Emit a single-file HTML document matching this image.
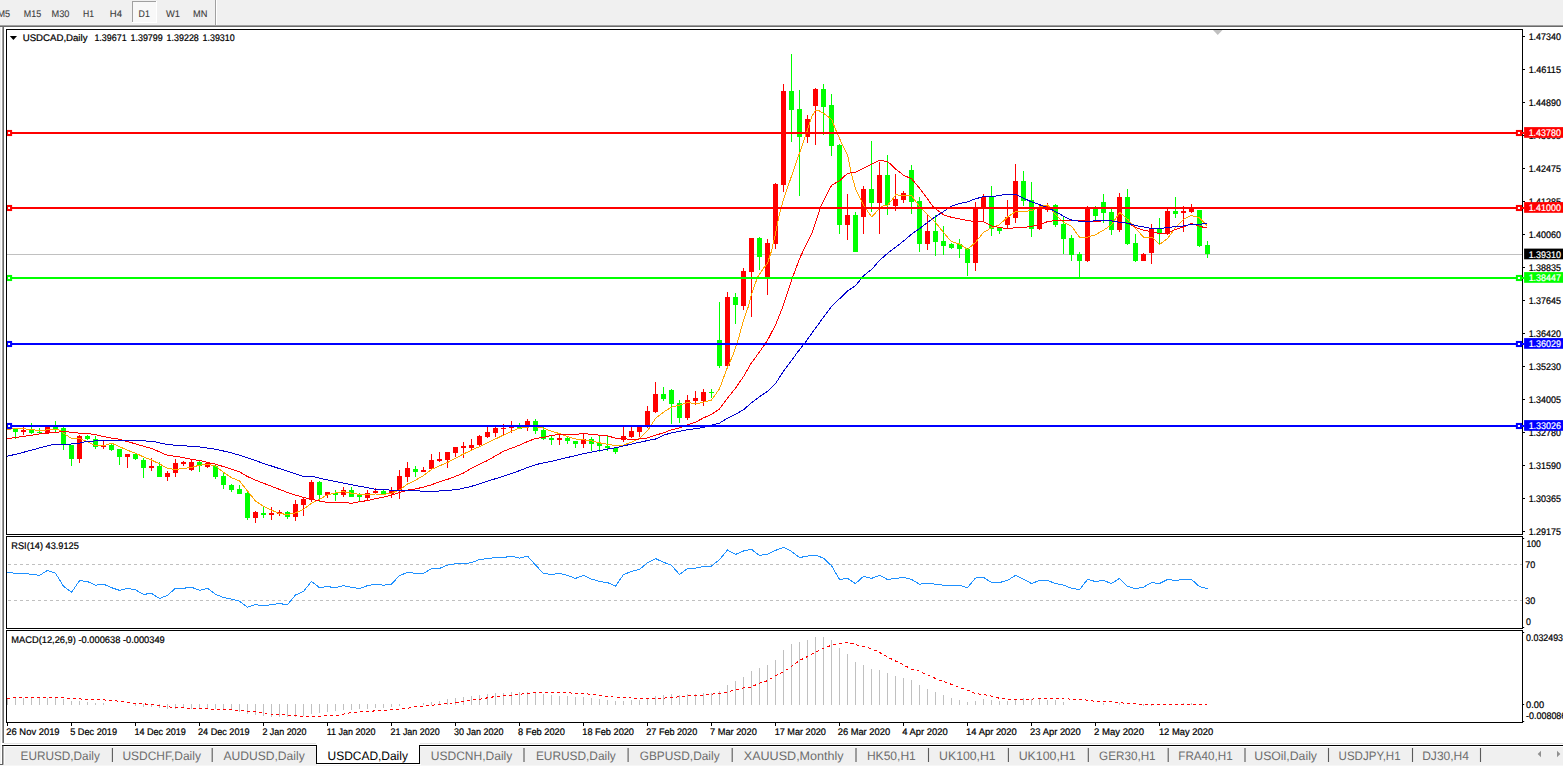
<!DOCTYPE html>
<html><head><meta charset="utf-8"><title>USDCAD,Daily</title>
<style>html,body{margin:0;padding:0}body{width:1563px;height:766px;overflow:hidden;background:#f0f0f0;position:relative}svg{position:absolute;left:0;top:0;display:block}text{font-family:"Liberation Sans",sans-serif;white-space:pre;text-rendering:geometricPrecision}</style>
</head><body>
<svg width="1563" height="766" viewBox="0 0 1563 766">
<defs><clipPath id="cm"><rect x="7" y="30" width="1515" height="504"/></clipPath><clipPath id="cr"><rect x="7" y="537" width="1515" height="91"/></clipPath><clipPath id="cd"><rect x="7" y="631" width="1515" height="91"/></clipPath></defs>
<rect x="0" y="0" width="1563" height="25" fill="#f0f0f0"/>
<rect x="132" y="1" width="25" height="22" fill="#f8f8f8"/>
<rect x="132" y="1" width="25" height="1" fill="#a0a0a0"/>
<rect x="132" y="1" width="1" height="22" fill="#a0a0a0"/>
<rect x="132" y="22" width="25" height="1" fill="#ffffff"/>
<rect x="156" y="1" width="1" height="22" fill="#ffffff"/>
<rect x="215" y="0" width="1" height="25" fill="#a0a0a0"/>
<rect x="216" y="0" width="1" height="25" fill="#ffffff"/>
<g opacity="0.99">
<text x="-2.6" y="17" font-size="9.6" fill="#3a3a3a" stroke="#3a3a3a" stroke-width="0.1" textLength="12.6" lengthAdjust="spacingAndGlyphs">M5</text>
<text x="23.8" y="17" font-size="9.6" fill="#3a3a3a" stroke="#3a3a3a" stroke-width="0.1" textLength="17.4" lengthAdjust="spacingAndGlyphs">M15</text>
<text x="51.5" y="17" font-size="9.6" fill="#3a3a3a" stroke="#3a3a3a" stroke-width="0.1" textLength="17.9" lengthAdjust="spacingAndGlyphs">M30</text>
<text x="83" y="17" font-size="9.6" fill="#3a3a3a" stroke="#3a3a3a" stroke-width="0.1" textLength="11" lengthAdjust="spacingAndGlyphs">H1</text>
<text x="109.8" y="17" font-size="9.6" fill="#3a3a3a" stroke="#3a3a3a" stroke-width="0.1" textLength="12.2" lengthAdjust="spacingAndGlyphs">H4</text>
<text x="138.6" y="17" font-size="9.6" fill="#3a3a3a" stroke="#3a3a3a" stroke-width="0.1" textLength="11.2" lengthAdjust="spacingAndGlyphs">D1</text>
<text x="166" y="17" font-size="9.6" fill="#3a3a3a" stroke="#3a3a3a" stroke-width="0.1" textLength="14" lengthAdjust="spacingAndGlyphs">W1</text>
<text x="193" y="17" font-size="9.6" fill="#3a3a3a" stroke="#3a3a3a" stroke-width="0.1" textLength="14.4" lengthAdjust="spacingAndGlyphs">MN</text>
</g>
<rect x="0" y="25" width="1563" height="1" fill="#a0a0a0"/>
<rect x="0" y="26" width="1563" height="1" fill="#696969"/>
<rect x="0" y="27" width="1563" height="718" fill="#ffffff"/>
<rect x="0" y="27" width="1" height="739" fill="#f0f0f0"/>
<rect x="2" y="27" width="1" height="716" fill="#a0a0a0"/>
<rect x="3" y="27" width="1" height="716" fill="#696969"/>
<rect x="6" y="29" width="1517" height="1" fill="#000"/>
<rect x="6" y="534" width="1517" height="1" fill="#000"/>
<rect x="6" y="29" width="1" height="506" fill="#000"/>
<rect x="1522" y="29" width="1" height="506" fill="#000"/>
<rect x="6" y="536" width="1517" height="1" fill="#000"/>
<rect x="6" y="628" width="1517" height="1" fill="#000"/>
<rect x="6" y="536" width="1" height="93" fill="#000"/>
<rect x="1522" y="536" width="1" height="93" fill="#000"/>
<rect x="6" y="630" width="1517" height="1" fill="#000"/>
<rect x="6" y="722" width="1517" height="1" fill="#000"/>
<rect x="6" y="630" width="1" height="93" fill="#000"/>
<rect x="1522" y="630" width="1" height="93" fill="#000"/>
<g clip-path="url(#cm)">
<rect x="7" y="254" width="1515" height="1" fill="#c0c0c0"/>
<rect x="15" y="428" width="1" height="11" fill="#00ff00"/>
<rect x="13" y="429" width="5" height="3" fill="#00ff00"/>
<rect x="23" y="427" width="1" height="8" fill="#ff0000"/>
<rect x="21" y="430" width="5" height="2" fill="#ff0000"/>
<rect x="31" y="423" width="1" height="11" fill="#00ff00"/>
<rect x="29" y="429" width="5" height="4" fill="#00ff00"/>
<rect x="39" y="428" width="1" height="5" fill="#00ff00"/>
<rect x="37" y="432" width="5" height="1" fill="#00ff00"/>
<rect x="47" y="427" width="1" height="7" fill="#ff0000"/>
<rect x="45" y="427" width="5" height="6" fill="#ff0000"/>
<rect x="55" y="421" width="1" height="11" fill="#00ff00"/>
<rect x="53" y="427" width="5" height="2" fill="#00ff00"/>
<rect x="63" y="427" width="1" height="23" fill="#00ff00"/>
<rect x="61" y="428" width="5" height="17" fill="#00ff00"/>
<rect x="71" y="445" width="1" height="21" fill="#00ff00"/>
<rect x="69" y="445" width="5" height="14" fill="#00ff00"/>
<rect x="79" y="435" width="1" height="28" fill="#ff0000"/>
<rect x="77" y="436" width="5" height="23" fill="#ff0000"/>
<rect x="87" y="435" width="1" height="5" fill="#00ff00"/>
<rect x="85" y="436" width="5" height="3" fill="#00ff00"/>
<rect x="95" y="436" width="1" height="13" fill="#00ff00"/>
<rect x="93" y="439" width="5" height="8" fill="#00ff00"/>
<rect x="103" y="441" width="1" height="8" fill="#ff0000"/>
<rect x="101" y="445" width="5" height="2" fill="#ff0000"/>
<rect x="111" y="444" width="1" height="7" fill="#00ff00"/>
<rect x="109" y="445" width="5" height="5" fill="#00ff00"/>
<rect x="119" y="449" width="1" height="16" fill="#00ff00"/>
<rect x="117" y="449" width="5" height="8" fill="#00ff00"/>
<rect x="127" y="454" width="1" height="14" fill="#ff0000"/>
<rect x="125" y="454" width="5" height="3" fill="#ff0000"/>
<rect x="135" y="453" width="1" height="7" fill="#00ff00"/>
<rect x="133" y="454" width="5" height="5" fill="#00ff00"/>
<rect x="143" y="458" width="1" height="20" fill="#00ff00"/>
<rect x="141" y="460" width="5" height="8" fill="#00ff00"/>
<rect x="151" y="458" width="1" height="13" fill="#ff0000"/>
<rect x="149" y="466" width="5" height="2" fill="#ff0000"/>
<rect x="159" y="462" width="1" height="15" fill="#00ff00"/>
<rect x="157" y="466" width="5" height="11" fill="#00ff00"/>
<rect x="167" y="471" width="1" height="10" fill="#ff0000"/>
<rect x="165" y="473" width="5" height="4" fill="#ff0000"/>
<rect x="175" y="459" width="1" height="18" fill="#ff0000"/>
<rect x="173" y="463" width="5" height="10" fill="#ff0000"/>
<rect x="183" y="461" width="1" height="5" fill="#ff0000"/>
<rect x="181" y="462" width="5" height="2" fill="#ff0000"/>
<rect x="191" y="460" width="1" height="11" fill="#ff0000"/>
<rect x="189" y="462" width="5" height="8" fill="#ff0000"/>
<rect x="199" y="461" width="1" height="11" fill="#00ff00"/>
<rect x="197" y="462" width="5" height="4" fill="#00ff00"/>
<rect x="207" y="462" width="1" height="6" fill="#ff0000"/>
<rect x="205" y="463" width="5" height="4" fill="#ff0000"/>
<rect x="215" y="465" width="1" height="14" fill="#00ff00"/>
<rect x="213" y="466" width="5" height="11" fill="#00ff00"/>
<rect x="223" y="472" width="1" height="17" fill="#00ff00"/>
<rect x="221" y="476" width="5" height="9" fill="#00ff00"/>
<rect x="231" y="484" width="1" height="8" fill="#00ff00"/>
<rect x="229" y="485" width="5" height="5" fill="#00ff00"/>
<rect x="239" y="485" width="1" height="9" fill="#00ff00"/>
<rect x="237" y="489" width="5" height="5" fill="#00ff00"/>
<rect x="247" y="490" width="1" height="30" fill="#00ff00"/>
<rect x="245" y="493" width="5" height="25" fill="#00ff00"/>
<rect x="255" y="511" width="1" height="12" fill="#ff0000"/>
<rect x="253" y="512" width="5" height="6" fill="#ff0000"/>
<rect x="263" y="506" width="1" height="12" fill="#00ff00"/>
<rect x="261" y="513" width="5" height="2" fill="#00ff00"/>
<rect x="271" y="507" width="1" height="13" fill="#ff0000"/>
<rect x="269" y="513" width="5" height="2" fill="#ff0000"/>
<rect x="279" y="510" width="1" height="6" fill="#ff0000"/>
<rect x="277" y="512" width="5" height="2" fill="#ff0000"/>
<rect x="287" y="511" width="1" height="8" fill="#00ff00"/>
<rect x="285" y="512" width="5" height="5" fill="#00ff00"/>
<rect x="295" y="500" width="1" height="21" fill="#ff0000"/>
<rect x="293" y="504" width="5" height="13" fill="#ff0000"/>
<rect x="303" y="497" width="1" height="19" fill="#ff0000"/>
<rect x="301" y="499" width="5" height="6" fill="#ff0000"/>
<rect x="311" y="480" width="1" height="22" fill="#ff0000"/>
<rect x="309" y="482" width="5" height="18" fill="#ff0000"/>
<rect x="319" y="481" width="1" height="21" fill="#00ff00"/>
<rect x="317" y="482" width="5" height="13" fill="#00ff00"/>
<rect x="327" y="492" width="1" height="6" fill="#ff0000"/>
<rect x="325" y="492" width="5" height="3" fill="#ff0000"/>
<rect x="335" y="490" width="1" height="11" fill="#00ff00"/>
<rect x="333" y="493" width="5" height="2" fill="#00ff00"/>
<rect x="343" y="487" width="1" height="10" fill="#ff0000"/>
<rect x="341" y="490" width="5" height="5" fill="#ff0000"/>
<rect x="351" y="487" width="1" height="10" fill="#00ff00"/>
<rect x="349" y="490" width="5" height="7" fill="#00ff00"/>
<rect x="359" y="493" width="1" height="8" fill="#00ff00"/>
<rect x="357" y="495" width="5" height="2" fill="#00ff00"/>
<rect x="367" y="490" width="1" height="10" fill="#ff0000"/>
<rect x="365" y="493" width="5" height="5" fill="#ff0000"/>
<rect x="375" y="488" width="1" height="5" fill="#ff0000"/>
<rect x="373" y="491" width="5" height="2" fill="#ff0000"/>
<rect x="383" y="490" width="1" height="4" fill="#00ff00"/>
<rect x="381" y="491" width="5" height="3" fill="#00ff00"/>
<rect x="391" y="487" width="1" height="11" fill="#ff0000"/>
<rect x="389" y="491" width="5" height="3" fill="#ff0000"/>
<rect x="399" y="470" width="1" height="29" fill="#ff0000"/>
<rect x="397" y="476" width="5" height="15" fill="#ff0000"/>
<rect x="407" y="462" width="1" height="20" fill="#ff0000"/>
<rect x="405" y="468" width="5" height="9" fill="#ff0000"/>
<rect x="415" y="466" width="1" height="11" fill="#00ff00"/>
<rect x="413" y="469" width="5" height="3" fill="#00ff00"/>
<rect x="423" y="467" width="1" height="5" fill="#ff0000"/>
<rect x="421" y="470" width="5" height="2" fill="#ff0000"/>
<rect x="431" y="454" width="1" height="15" fill="#ff0000"/>
<rect x="429" y="460" width="5" height="9" fill="#ff0000"/>
<rect x="439" y="452" width="1" height="10" fill="#ff0000"/>
<rect x="437" y="459" width="5" height="2" fill="#ff0000"/>
<rect x="447" y="452" width="1" height="16" fill="#ff0000"/>
<rect x="445" y="452" width="5" height="8" fill="#ff0000"/>
<rect x="455" y="447" width="1" height="10" fill="#ff0000"/>
<rect x="453" y="447" width="5" height="6" fill="#ff0000"/>
<rect x="463" y="442" width="1" height="16" fill="#ff0000"/>
<rect x="461" y="446" width="5" height="2" fill="#ff0000"/>
<rect x="471" y="439" width="1" height="11" fill="#ff0000"/>
<rect x="469" y="445" width="5" height="3" fill="#ff0000"/>
<rect x="479" y="435" width="1" height="11" fill="#ff0000"/>
<rect x="477" y="436" width="5" height="9" fill="#ff0000"/>
<rect x="487" y="427" width="1" height="11" fill="#ff0000"/>
<rect x="485" y="432" width="5" height="5" fill="#ff0000"/>
<rect x="495" y="427" width="1" height="10" fill="#ff0000"/>
<rect x="493" y="428" width="5" height="5" fill="#ff0000"/>
<rect x="503" y="424" width="1" height="12" fill="#ff0000"/>
<rect x="501" y="428" width="5" height="1" fill="#ff0000"/>
<rect x="511" y="421" width="1" height="12" fill="#ff0000"/>
<rect x="509" y="426" width="5" height="2" fill="#ff0000"/>
<rect x="519" y="423" width="1" height="6" fill="#00ff00"/>
<rect x="517" y="425" width="5" height="4" fill="#00ff00"/>
<rect x="527" y="419" width="1" height="12" fill="#ff0000"/>
<rect x="525" y="421" width="5" height="6" fill="#ff0000"/>
<rect x="535" y="419" width="1" height="15" fill="#00ff00"/>
<rect x="533" y="421" width="5" height="10" fill="#00ff00"/>
<rect x="543" y="427" width="1" height="13" fill="#00ff00"/>
<rect x="541" y="430" width="5" height="9" fill="#00ff00"/>
<rect x="551" y="436" width="1" height="9" fill="#00ff00"/>
<rect x="549" y="438" width="5" height="2" fill="#00ff00"/>
<rect x="559" y="433" width="1" height="12" fill="#ff0000"/>
<rect x="557" y="438" width="5" height="2" fill="#ff0000"/>
<rect x="567" y="437" width="1" height="7" fill="#00ff00"/>
<rect x="565" y="438" width="5" height="3" fill="#00ff00"/>
<rect x="575" y="441" width="1" height="7" fill="#00ff00"/>
<rect x="573" y="441" width="5" height="3" fill="#00ff00"/>
<rect x="583" y="433" width="1" height="15" fill="#ff0000"/>
<rect x="581" y="439" width="5" height="5" fill="#ff0000"/>
<rect x="591" y="437" width="1" height="14" fill="#00ff00"/>
<rect x="589" y="439" width="5" height="5" fill="#00ff00"/>
<rect x="599" y="435" width="1" height="17" fill="#00ff00"/>
<rect x="597" y="443" width="5" height="3" fill="#00ff00"/>
<rect x="607" y="435" width="1" height="16" fill="#00ff00"/>
<rect x="605" y="446" width="5" height="2" fill="#00ff00"/>
<rect x="615" y="447" width="1" height="7" fill="#00ff00"/>
<rect x="613" y="448" width="5" height="4" fill="#00ff00"/>
<rect x="623" y="427" width="1" height="15" fill="#ff0000"/>
<rect x="621" y="436" width="5" height="4" fill="#ff0000"/>
<rect x="631" y="427" width="1" height="11" fill="#ff0000"/>
<rect x="629" y="431" width="5" height="6" fill="#ff0000"/>
<rect x="639" y="427" width="1" height="10" fill="#ff0000"/>
<rect x="637" y="427" width="5" height="5" fill="#ff0000"/>
<rect x="647" y="406" width="1" height="22" fill="#ff0000"/>
<rect x="645" y="411" width="5" height="16" fill="#ff0000"/>
<rect x="655" y="382" width="1" height="31" fill="#ff0000"/>
<rect x="653" y="394" width="5" height="18" fill="#ff0000"/>
<rect x="663" y="387" width="1" height="14" fill="#00ff00"/>
<rect x="661" y="394" width="5" height="5" fill="#00ff00"/>
<rect x="671" y="389" width="1" height="35" fill="#00ff00"/>
<rect x="669" y="390" width="5" height="14" fill="#00ff00"/>
<rect x="679" y="400" width="1" height="23" fill="#00ff00"/>
<rect x="677" y="403" width="5" height="15" fill="#00ff00"/>
<rect x="687" y="395" width="1" height="25" fill="#ff0000"/>
<rect x="685" y="400" width="5" height="18" fill="#ff0000"/>
<rect x="695" y="391" width="1" height="14" fill="#ff0000"/>
<rect x="693" y="398" width="5" height="3" fill="#ff0000"/>
<rect x="703" y="389" width="1" height="17" fill="#ff0000"/>
<rect x="701" y="392" width="5" height="9" fill="#ff0000"/>
<rect x="711" y="389" width="1" height="9" fill="#00ff00"/>
<rect x="709" y="392" width="5" height="1" fill="#00ff00"/>
<rect x="719" y="302" width="1" height="66" fill="#00ff00"/>
<rect x="717" y="340" width="5" height="26" fill="#00ff00"/>
<rect x="727" y="292" width="1" height="75" fill="#ff0000"/>
<rect x="725" y="297" width="5" height="69" fill="#ff0000"/>
<rect x="735" y="293" width="1" height="31" fill="#00ff00"/>
<rect x="733" y="297" width="5" height="8" fill="#00ff00"/>
<rect x="743" y="268" width="1" height="42" fill="#ff0000"/>
<rect x="741" y="271" width="5" height="35" fill="#ff0000"/>
<rect x="751" y="238" width="1" height="79" fill="#ff0000"/>
<rect x="749" y="238" width="5" height="34" fill="#ff0000"/>
<rect x="759" y="237" width="1" height="33" fill="#00ff00"/>
<rect x="757" y="238" width="5" height="19" fill="#00ff00"/>
<rect x="767" y="239" width="1" height="56" fill="#ff0000"/>
<rect x="765" y="243" width="5" height="34" fill="#ff0000"/>
<rect x="775" y="183" width="1" height="66" fill="#ff0000"/>
<rect x="773" y="184" width="5" height="60" fill="#ff0000"/>
<rect x="783" y="84" width="1" height="108" fill="#ff0000"/>
<rect x="781" y="91" width="5" height="94" fill="#ff0000"/>
<rect x="791" y="54" width="1" height="88" fill="#00ff00"/>
<rect x="789" y="91" width="5" height="19" fill="#00ff00"/>
<rect x="799" y="90" width="1" height="106" fill="#00ff00"/>
<rect x="797" y="109" width="5" height="28" fill="#00ff00"/>
<rect x="807" y="115" width="1" height="28" fill="#ff0000"/>
<rect x="805" y="119" width="5" height="18" fill="#ff0000"/>
<rect x="815" y="88" width="1" height="57" fill="#ff0000"/>
<rect x="813" y="89" width="5" height="17" fill="#ff0000"/>
<rect x="823" y="84" width="1" height="51" fill="#00ff00"/>
<rect x="821" y="89" width="5" height="18" fill="#00ff00"/>
<rect x="831" y="94" width="1" height="62" fill="#00ff00"/>
<rect x="829" y="105" width="5" height="41" fill="#00ff00"/>
<rect x="839" y="144" width="1" height="90" fill="#00ff00"/>
<rect x="837" y="145" width="5" height="80" fill="#00ff00"/>
<rect x="847" y="194" width="1" height="46" fill="#ff0000"/>
<rect x="845" y="215" width="5" height="10" fill="#ff0000"/>
<rect x="855" y="212" width="1" height="40" fill="#00ff00"/>
<rect x="853" y="215" width="5" height="37" fill="#00ff00"/>
<rect x="863" y="186" width="1" height="48" fill="#ff0000"/>
<rect x="861" y="189" width="5" height="28" fill="#ff0000"/>
<rect x="871" y="141" width="1" height="71" fill="#00ff00"/>
<rect x="869" y="189" width="5" height="14" fill="#00ff00"/>
<rect x="879" y="162" width="1" height="72" fill="#ff0000"/>
<rect x="877" y="175" width="5" height="28" fill="#ff0000"/>
<rect x="887" y="155" width="1" height="60" fill="#00ff00"/>
<rect x="885" y="175" width="5" height="30" fill="#00ff00"/>
<rect x="895" y="174" width="1" height="37" fill="#ff0000"/>
<rect x="893" y="199" width="5" height="7" fill="#ff0000"/>
<rect x="903" y="191" width="1" height="12" fill="#ff0000"/>
<rect x="901" y="193" width="5" height="7" fill="#ff0000"/>
<rect x="911" y="165" width="1" height="49" fill="#00ff00"/>
<rect x="909" y="170" width="5" height="32" fill="#00ff00"/>
<rect x="919" y="197" width="1" height="55" fill="#00ff00"/>
<rect x="917" y="201" width="5" height="43" fill="#00ff00"/>
<rect x="927" y="215" width="1" height="35" fill="#ff0000"/>
<rect x="925" y="231" width="5" height="13" fill="#ff0000"/>
<rect x="935" y="215" width="1" height="41" fill="#00ff00"/>
<rect x="933" y="231" width="5" height="11" fill="#00ff00"/>
<rect x="943" y="226" width="1" height="29" fill="#00ff00"/>
<rect x="941" y="241" width="5" height="5" fill="#00ff00"/>
<rect x="951" y="243" width="1" height="6" fill="#00ff00"/>
<rect x="949" y="244" width="5" height="4" fill="#00ff00"/>
<rect x="959" y="239" width="1" height="19" fill="#00ff00"/>
<rect x="957" y="244" width="5" height="5" fill="#00ff00"/>
<rect x="967" y="248" width="1" height="28" fill="#00ff00"/>
<rect x="965" y="249" width="5" height="14" fill="#00ff00"/>
<rect x="975" y="202" width="1" height="69" fill="#ff0000"/>
<rect x="973" y="208" width="5" height="55" fill="#ff0000"/>
<rect x="983" y="194" width="1" height="28" fill="#ff0000"/>
<rect x="981" y="197" width="5" height="11" fill="#ff0000"/>
<rect x="991" y="186" width="1" height="50" fill="#00ff00"/>
<rect x="989" y="197" width="5" height="32" fill="#00ff00"/>
<rect x="999" y="227" width="1" height="7" fill="#00ff00"/>
<rect x="997" y="228" width="5" height="3" fill="#00ff00"/>
<rect x="1007" y="200" width="1" height="29" fill="#ff0000"/>
<rect x="1005" y="217" width="5" height="8" fill="#ff0000"/>
<rect x="1015" y="164" width="1" height="59" fill="#ff0000"/>
<rect x="1013" y="181" width="5" height="37" fill="#ff0000"/>
<rect x="1023" y="171" width="1" height="35" fill="#00ff00"/>
<rect x="1021" y="181" width="5" height="20" fill="#00ff00"/>
<rect x="1031" y="182" width="1" height="55" fill="#00ff00"/>
<rect x="1029" y="200" width="5" height="29" fill="#00ff00"/>
<rect x="1039" y="205" width="1" height="25" fill="#ff0000"/>
<rect x="1037" y="208" width="5" height="21" fill="#ff0000"/>
<rect x="1047" y="203" width="1" height="9" fill="#ff0000"/>
<rect x="1045" y="206" width="5" height="4" fill="#ff0000"/>
<rect x="1055" y="204" width="1" height="23" fill="#00ff00"/>
<rect x="1053" y="205" width="5" height="20" fill="#00ff00"/>
<rect x="1063" y="217" width="1" height="37" fill="#00ff00"/>
<rect x="1061" y="224" width="5" height="15" fill="#00ff00"/>
<rect x="1071" y="235" width="1" height="26" fill="#00ff00"/>
<rect x="1069" y="238" width="5" height="17" fill="#00ff00"/>
<rect x="1079" y="252" width="1" height="26" fill="#00ff00"/>
<rect x="1077" y="254" width="5" height="7" fill="#00ff00"/>
<rect x="1087" y="206" width="1" height="56" fill="#ff0000"/>
<rect x="1085" y="208" width="5" height="53" fill="#ff0000"/>
<rect x="1095" y="206" width="1" height="14" fill="#00ff00"/>
<rect x="1093" y="209" width="5" height="7" fill="#00ff00"/>
<rect x="1103" y="194" width="1" height="29" fill="#00ff00"/>
<rect x="1101" y="202" width="5" height="11" fill="#00ff00"/>
<rect x="1111" y="209" width="1" height="26" fill="#00ff00"/>
<rect x="1109" y="212" width="5" height="18" fill="#00ff00"/>
<rect x="1119" y="193" width="1" height="39" fill="#ff0000"/>
<rect x="1117" y="197" width="5" height="33" fill="#ff0000"/>
<rect x="1127" y="189" width="1" height="56" fill="#00ff00"/>
<rect x="1125" y="197" width="5" height="47" fill="#00ff00"/>
<rect x="1135" y="234" width="1" height="28" fill="#00ff00"/>
<rect x="1133" y="243" width="5" height="18" fill="#00ff00"/>
<rect x="1143" y="253" width="1" height="8" fill="#ff0000"/>
<rect x="1141" y="254" width="5" height="7" fill="#ff0000"/>
<rect x="1151" y="224" width="1" height="40" fill="#ff0000"/>
<rect x="1149" y="229" width="5" height="24" fill="#ff0000"/>
<rect x="1159" y="218" width="1" height="26" fill="#00ff00"/>
<rect x="1157" y="229" width="5" height="4" fill="#00ff00"/>
<rect x="1167" y="208" width="1" height="27" fill="#ff0000"/>
<rect x="1165" y="211" width="5" height="23" fill="#ff0000"/>
<rect x="1175" y="197" width="1" height="21" fill="#00ff00"/>
<rect x="1173" y="211" width="5" height="3" fill="#00ff00"/>
<rect x="1183" y="206" width="1" height="26" fill="#ff0000"/>
<rect x="1181" y="211" width="5" height="2" fill="#ff0000"/>
<rect x="1191" y="204" width="1" height="9" fill="#ff0000"/>
<rect x="1189" y="208" width="5" height="4" fill="#ff0000"/>
<rect x="1199" y="210" width="1" height="37" fill="#00ff00"/>
<rect x="1197" y="210" width="5" height="36" fill="#00ff00"/>
<rect x="1207" y="241" width="1" height="17" fill="#00ff00"/>
<rect x="1205" y="245" width="5" height="9" fill="#00ff00"/>
<polyline points="6.93,429.57 15.41,428.49 30.82,429.26 40.06,430.8 50.85,429.26 58.55,429.72 63.48,433.11 71.49,438.51 79.51,438.51 87.52,441.59 95.53,445.75 103.54,445.75 111.56,443.13 119.57,446.67 127.58,450.37 135.59,453.14 143.61,457 151.62,460.08 159.63,463.93 167.64,468.55 175.65,469.32 183.67,468.55 191.68,467.32 199.69,465.16 207.7,464.24 215.72,466.24 223.73,472.4 231.74,477.8 239.4,480.88 247.41,490.89 255.42,500.91 263.43,506.3 271.45,510.15 279.46,513.54 287.47,514.47 295.48,512.93 303.49,509.38 311.51,503.22 319.52,499.37 327.53,494.75 335.54,492.9 343.56,491.66 351.57,493.2 359.58,494.44 367.59,494.44 375.61,493.98 383.62,494.44 391.63,493.2 399.64,489.82 407.65,483.96 415.67,480.11 423.68,475.49 431.69,469.32 439.7,465.78 447.72,462.39 455.73,458.07 463.74,453.91 471.4,450.22 479.41,446.68 487.42,442.83 495.43,438.98 503.45,435.12 511.46,431.27 519.47,428.19 527.48,427.11 535.49,426.65 543.51,428.19 551.52,431.27 559.53,433.58 567.54,436.66 575.56,438.98 583.57,439.75 591.58,440.98 599.59,442.83 607.61,444.37 615.62,445.6 623.63,445.14 631.64,442.06 639.65,438.2 647.67,430.5 655.68,418.17 663.69,412.01 671.7,407.08 679.72,405.08 687.73,402.46 695.74,404 703.4,402.08 711.41,400.07 719.42,388.98 727.43,367.41 732.98,355.08 737.6,341.86 743.46,320.29 748.39,306.42 751.47,294.09 757.63,277.14 763.8,267.9 767.49,263.28 771.5,250.95 774.89,236.31 779.2,214.61 783.52,199.2 791.53,176.09 799.54,152.98 807.56,129.87 811.56,117.04 815.57,110.11 819.27,110.88 823.58,113.19 831.59,119.35 836.22,130.91 839.61,138.61 843.92,147.86 847.62,155.56 851.62,174.55 855.63,189.19 863.64,205.37 871.65,216.92 879.67,208.45 882.44,206.14 887.68,205.37 895.69,194.89 903.7,195.35 911.72,195.82 919.73,206.91 927.74,214.61 935.4,222.4 943.41,232.42 951.42,241.66 959.43,243.98 967.45,249.37 975.46,242.43 983.47,232.42 991.48,227.8 999.49,224.71 1007.51,217.01 1015.52,211.62 1023.53,211.16 1031.54,210.85 1039.56,207 1047.57,204.99 1051.27,209.31 1055.58,214.7 1063.59,222.4 1071.61,226.26 1079.62,237.35 1087.63,237.04 1095.64,234.73 1103.65,230.11 1111.67,224.71 1119.68,212.39 1127.69,219.32 1135.7,228.57 1143.72,237.35 1151.73,237.04 1159.74,244.44 1167.4,238.58 1175.41,227.8 1183.42,219.32 1191.43,215.47 1199.45,217.78 1204.68,223.17 1207,225.49" fill="none" stroke="#ffa500" stroke-width="1" stroke-linejoin="round" shape-rendering="crispEdges"/>
<polyline points="6.93,438.81 15.41,437.43 30.82,435.42 40.06,433.88 50.85,432.8 58.55,432.03 63.48,431.26 71.49,432.34 79.51,433.11 87.52,433.42 95.53,434.65 103.54,436.5 111.56,438.04 119.57,439.28 127.58,441.59 135.59,443.9 143.61,446.21 151.62,448.52 159.63,451.91 167.64,455.45 175.65,456.22 183.67,457.77 191.68,459.31 199.69,460.54 207.7,462.39 215.72,464.24 223.73,466.7 231.74,469.32 239.4,471.63 247.41,476.56 255.42,480.11 263.43,483.19 271.45,486.27 279.46,489.35 287.47,492.43 295.48,495.05 303.49,497.52 311.51,499.37 319.52,500.91 327.53,502.45 335.54,502.45 343.56,502.45 351.57,503.22 359.58,501.68 367.59,500.6 375.61,498.6 383.62,497.06 391.63,495.05 399.64,492.43 407.65,490.12 415.67,488.89 423.68,487.04 431.69,484.73 439.7,481.65 447.72,479.34 455.73,476.26 463.74,472.87 471.4,468.25 479.41,464.4 487.42,460.55 495.43,455.92 503.45,451.3 511.46,448.22 519.47,445.14 527.48,441.59 535.49,438.51 543.51,437.43 551.52,435.43 559.53,434.35 567.54,434.82 575.56,434.35 583.57,433.58 591.58,434.35 599.59,435.12 607.61,435.89 615.62,438.2 623.63,438.51 631.64,439.75 639.65,438.98 647.67,437.9 655.68,435.12 663.69,432.81 671.7,429.73 679.72,427.73 687.73,424.65 695.74,422.03 703.4,417.95 711.41,414.4 719.42,409.01 727.43,398.22 735.45,388.21 743.46,376.65 751.47,362.79 759.48,352.03 767.49,340.32 775.51,324.91 783.52,304.88 791.53,280.22 799.54,258.65 807.56,241.7 811.56,234.03 815.57,222.32 821.58,204.6 831.59,185.34 839.61,180.71 847.62,173.32 855.63,172.24 863.64,168.08 871.65,164.07 879.67,160.38 887.68,161.45 895.69,169.16 903.7,175.32 911.72,178.87 919.73,188.42 927.74,199.2 933.29,206.91 935.4,208.54 943.41,214.7 951.42,217.32 959.43,218.86 967.45,220.4 975.46,221.63 983.47,221.63 991.48,225.95 999.49,227.49 1007.51,228.57 1015.52,227.8 1023.53,227.49 1031.54,226.26 1039.56,224.71 1047.57,221.63 1055.58,220.4 1063.59,220.4 1071.61,220.4 1079.62,220.86 1087.63,220.86 1095.64,221.33 1103.65,220.86 1111.67,220.86 1119.68,221.63 1127.69,223.17 1135.7,227.49 1143.72,230.11 1151.73,231.65 1159.74,233.65 1167.4,233.19 1175.41,229.34 1183.42,227.03 1191.43,223.48 1199.45,226.26 1207,228.1" fill="none" stroke="#ff0000" stroke-width="1" stroke-linejoin="round" shape-rendering="crispEdges"/>
<polyline points="6.93,456.22 15.41,454.38 30.82,450.37 40.06,447.75 53.93,444.21 63.48,444.21 75.5,443.9 86.29,441.59 100.15,440.51 120.18,440.05 138.67,440.51 154.08,441.59 167.64,444.67 183.67,445.75 200.31,446.98 215.72,449.29 231.74,452.84 247.41,457.77 262.82,463.16 278.22,468.24 293.63,473.17 302.88,476.26 311.51,476.26 324.45,479.34 339.86,482.42 355.27,485.5 370.67,488.27 375.61,489.35 390.71,490.12 401.49,490.43 416.9,490.43 421.52,491.36 433.85,491.36 447.72,490.43 458.5,489.35 471.75,486.27 513.31,473.03 525.63,468.25 535.49,464.71 543.51,462.86 551.52,461.32 567.54,457.47 583.57,453.61 599.59,450.53 615.62,447.76 631.64,444.06 647.67,440.52 655.68,438.98 663.69,435.12 671.7,432.81 679.72,431.27 687.73,429.73 695.74,428.65 703.4,427.5 711.41,425.19 719.42,423.19 727.43,418.26 735.45,414.4 743.46,409.78 751.47,402.85 759.48,396.68 767.49,391.29 775.51,383.59 783.52,371.26 791.53,360.47 797.69,352.03 805.71,341.86 815.57,327.99 823.58,317.2 831.59,306.42 839.61,298.71 847.62,291.01 855.63,285.62 863.64,275.6 871.65,269.44 879.67,260.19 887.68,253.26 895.69,247.1 903.7,240.93 911.72,234.03 919.73,228.48 927.74,222.32 935.4,216.7 943.41,211.62 951.42,206.22 959.43,203.45 967.45,201.91 975.46,198.83 983.47,196.67 991.48,196.67 999.49,195.44 1007.51,194.21 1015.52,194.21 1023.53,198.21 1031.54,201.91 1039.56,204.68 1047.57,207.46 1055.58,211.62 1063.59,216.24 1071.61,220.09 1079.62,221.33 1087.63,221.33 1095.64,220.86 1103.65,220.4 1111.67,220.86 1119.68,222.4 1127.69,223.17 1135.7,225.49 1143.72,227.03 1151.73,228.57 1159.74,228.57 1167.4,227.49 1175.41,226.56 1183.42,225.95 1191.43,224.41 1199.45,224.41 1207,223.17" fill="none" stroke="#0000cd" stroke-width="1" stroke-linejoin="round" shape-rendering="crispEdges"/>
</g>
<rect x="7" y="132" width="1517.2" height="2" fill="#ff0000"/>
<rect x="7" y="129.95" width="5.1" height="6.1" fill="#ff0000"/><rect x="8.1" y="132" width="1.95" height="2" fill="#fff"/>
<rect x="1515.9" y="129.95" width="6.15" height="6.1" fill="#ff0000"/><rect x="1517.9" y="132" width="2.1" height="2" fill="#fff"/>
<rect x="7" y="207" width="1517.2" height="2" fill="#ff0000"/>
<rect x="7" y="204.95" width="5.1" height="6.1" fill="#ff0000"/><rect x="8.1" y="207" width="1.95" height="2" fill="#fff"/>
<rect x="1515.9" y="204.95" width="6.15" height="6.1" fill="#ff0000"/><rect x="1517.9" y="207" width="2.1" height="2" fill="#fff"/>
<rect x="7" y="277" width="1517.2" height="2" fill="#00ff00"/>
<rect x="7" y="274.95" width="5.1" height="6.1" fill="#00ff00"/><rect x="8.1" y="277" width="1.95" height="2" fill="#fff"/>
<rect x="1515.9" y="274.95" width="6.15" height="6.1" fill="#00ff00"/><rect x="1517.9" y="277" width="2.1" height="2" fill="#fff"/>
<rect x="7" y="343" width="1517.2" height="2" fill="#0000ff"/>
<rect x="7" y="340.95" width="5.1" height="6.1" fill="#0000ff"/><rect x="8.1" y="343" width="1.95" height="2" fill="#fff"/>
<rect x="1515.9" y="340.95" width="6.15" height="6.1" fill="#0000ff"/><rect x="1517.9" y="343" width="2.1" height="2" fill="#fff"/>
<rect x="7" y="425" width="1517.2" height="2" fill="#0000ff"/>
<rect x="7" y="422.95" width="5.1" height="6.1" fill="#0000ff"/><rect x="8.1" y="425" width="1.95" height="2" fill="#fff"/>
<rect x="1515.9" y="422.95" width="6.15" height="6.1" fill="#0000ff"/><rect x="1517.9" y="425" width="2.1" height="2" fill="#fff"/>
<polygon points="1213,30 1222.5,30 1217.75,35" fill="#c0c0c0"/>
<polygon points="9.8,36 17,36 13.4,40" fill="#000"/>
<text x="22.7" y="40.8" font-size="9.6" fill="#000" stroke="#000" stroke-width="0.22" textLength="64.8" lengthAdjust="spacingAndGlyphs">USDCAD,Daily</text>
<text x="94.4" y="40.8" font-size="9.6" fill="#000" stroke="#000" stroke-width="0.22" textLength="32.2" lengthAdjust="spacingAndGlyphs">1.39671</text>
<text x="130.5" y="40.8" font-size="9.6" fill="#000" stroke="#000" stroke-width="0.22" textLength="32.2" lengthAdjust="spacingAndGlyphs">1.39799</text>
<text x="166.6" y="40.8" font-size="9.6" fill="#000" stroke="#000" stroke-width="0.22" textLength="32.2" lengthAdjust="spacingAndGlyphs">1.39228</text>
<text x="202.5" y="40.8" font-size="9.6" fill="#000" stroke="#000" stroke-width="0.22" textLength="32.2" lengthAdjust="spacingAndGlyphs">1.39310</text>
<rect x="1523" y="36" width="2" height="1" fill="#000"/>
<text x="1528.65" y="39.95" font-size="9.6" fill="#000" stroke="#000" stroke-width="0.22" textLength="32.35" lengthAdjust="spacingAndGlyphs">1.47340</text>
<rect x="1523" y="69" width="2" height="1" fill="#000"/>
<text x="1528.65" y="72.95" font-size="9.6" fill="#000" stroke="#000" stroke-width="0.22" textLength="32.35" lengthAdjust="spacingAndGlyphs">1.46115</text>
<rect x="1523" y="102" width="2" height="1" fill="#000"/>
<text x="1528.65" y="105.95" font-size="9.6" fill="#000" stroke="#000" stroke-width="0.22" textLength="32.35" lengthAdjust="spacingAndGlyphs">1.44890</text>
<rect x="1523" y="135" width="2" height="1" fill="#000"/>
<text x="1528.65" y="138.95" font-size="9.6" fill="#000" stroke="#000" stroke-width="0.22" textLength="32.35" lengthAdjust="spacingAndGlyphs">1.43665</text>
<rect x="1523" y="168" width="2" height="1" fill="#000"/>
<text x="1528.65" y="171.95" font-size="9.6" fill="#000" stroke="#000" stroke-width="0.22" textLength="32.35" lengthAdjust="spacingAndGlyphs">1.42475</text>
<rect x="1523" y="201" width="2" height="1" fill="#000"/>
<text x="1528.65" y="204.95" font-size="9.6" fill="#000" stroke="#000" stroke-width="0.22" textLength="32.35" lengthAdjust="spacingAndGlyphs">1.41285</text>
<rect x="1523" y="234" width="2" height="1" fill="#000"/>
<text x="1528.65" y="237.95" font-size="9.6" fill="#000" stroke="#000" stroke-width="0.22" textLength="32.35" lengthAdjust="spacingAndGlyphs">1.40060</text>
<rect x="1523" y="267" width="2" height="1" fill="#000"/>
<text x="1528.65" y="270.95" font-size="9.6" fill="#000" stroke="#000" stroke-width="0.22" textLength="32.35" lengthAdjust="spacingAndGlyphs">1.38835</text>
<rect x="1523" y="300" width="2" height="1" fill="#000"/>
<text x="1528.65" y="303.95" font-size="9.6" fill="#000" stroke="#000" stroke-width="0.22" textLength="32.35" lengthAdjust="spacingAndGlyphs">1.37645</text>
<rect x="1523" y="333" width="2" height="1" fill="#000"/>
<text x="1528.65" y="336.95" font-size="9.6" fill="#000" stroke="#000" stroke-width="0.22" textLength="32.35" lengthAdjust="spacingAndGlyphs">1.36420</text>
<rect x="1523" y="366" width="2" height="1" fill="#000"/>
<text x="1528.65" y="369.95" font-size="9.6" fill="#000" stroke="#000" stroke-width="0.22" textLength="32.35" lengthAdjust="spacingAndGlyphs">1.35230</text>
<rect x="1523" y="399" width="2" height="1" fill="#000"/>
<text x="1528.65" y="402.95" font-size="9.6" fill="#000" stroke="#000" stroke-width="0.22" textLength="32.35" lengthAdjust="spacingAndGlyphs">1.34005</text>
<rect x="1523" y="432" width="2" height="1" fill="#000"/>
<text x="1528.65" y="435.95" font-size="9.6" fill="#000" stroke="#000" stroke-width="0.22" textLength="32.35" lengthAdjust="spacingAndGlyphs">1.32780</text>
<rect x="1523" y="465" width="2" height="1" fill="#000"/>
<text x="1528.65" y="468.95" font-size="9.6" fill="#000" stroke="#000" stroke-width="0.22" textLength="32.35" lengthAdjust="spacingAndGlyphs">1.31590</text>
<rect x="1523" y="498" width="2" height="1" fill="#000"/>
<text x="1528.65" y="501.95" font-size="9.6" fill="#000" stroke="#000" stroke-width="0.22" textLength="32.35" lengthAdjust="spacingAndGlyphs">1.30365</text>
<rect x="1523" y="531" width="2" height="1" fill="#000"/>
<text x="1528.65" y="534.95" font-size="9.6" fill="#000" stroke="#000" stroke-width="0.22" textLength="32.35" lengthAdjust="spacingAndGlyphs">1.29175</text>
<rect x="1524.1" y="127.1" width="39" height="10.7" fill="#ff0000"/>
<text x="1528.65" y="136" font-size="9.6" fill="#fff" stroke="#fff" stroke-width="0.22" textLength="32.35" lengthAdjust="spacingAndGlyphs">1.43780</text>
<rect x="1524.1" y="202.1" width="39" height="10.7" fill="#ff0000"/>
<text x="1528.65" y="211" font-size="9.6" fill="#fff" stroke="#fff" stroke-width="0.22" textLength="32.35" lengthAdjust="spacingAndGlyphs">1.41000</text>
<rect x="1524.1" y="248.6" width="39" height="10.7" fill="#000000"/>
<text x="1528.65" y="257.5" font-size="9.6" fill="#fff" stroke="#fff" stroke-width="0.22" textLength="32.35" lengthAdjust="spacingAndGlyphs">1.39310</text>
<rect x="1524.1" y="272.1" width="39" height="10.7" fill="#00ff00"/>
<text x="1528.65" y="281" font-size="9.6" fill="#fff" stroke="#fff" stroke-width="0.22" textLength="32.35" lengthAdjust="spacingAndGlyphs">1.38447</text>
<rect x="1524.1" y="338.1" width="39" height="10.7" fill="#0000ff"/>
<text x="1528.65" y="347" font-size="9.6" fill="#fff" stroke="#fff" stroke-width="0.22" textLength="32.35" lengthAdjust="spacingAndGlyphs">1.36029</text>
<rect x="1524.1" y="420.1" width="39" height="10.7" fill="#0000ff"/>
<text x="1528.65" y="429" font-size="9.6" fill="#fff" stroke="#fff" stroke-width="0.22" textLength="32.35" lengthAdjust="spacingAndGlyphs">1.33026</text>
<g clip-path="url(#cr)">
<line x1="8" y1="564.5" x2="1522" y2="564.5" stroke="#c0c0c0" stroke-width="1" stroke-dasharray="3,3"/>
<line x1="8" y1="600.5" x2="1522" y2="600.5" stroke="#c0c0c0" stroke-width="1" stroke-dasharray="3,3"/>
<polyline points="7.5,572.49 15.5,573.31 23.5,573.31 31.5,574.34 39.5,575.36 47.5,570.45 55.5,573.31 63.5,586.21 71.5,592.35 79.5,580.68 87.5,581.5 95.5,585.19 103.5,584.16 111.5,587.64 119.5,590.31 127.5,588.26 135.5,589.9 143.5,594.4 151.5,593.38 159.5,598.5 167.5,595.43 175.5,588.26 183.5,588.26 191.5,587.24 199.5,590.31 207.5,588.26 215.5,594.4 223.5,597.47 231.5,599.11 239.5,601.16 247.5,607.3 255.5,604.64 263.5,605.66 271.5,604.64 279.5,603.62 287.5,604.64 295.5,595.02 303.5,591.33 311.5,581.5 319.5,587.64 327.5,586.62 335.5,587.64 343.5,585.6 351.5,587.24 359.5,588.67 367.5,585.6 375.5,584.16 383.5,585.19 391.5,584.16 399.5,575.56 407.5,572.49 415.5,573.31 423.5,573.31 431.5,568.81 439.5,568.4 447.5,565.12 455.5,563.69 463.5,563.69 471.5,562.67 479.5,559.59 487.5,558.57 495.5,557.55 503.5,557.55 511.5,556.11 519.5,558.16 527.5,556.11 535.5,565.12 543.5,573.31 551.5,574.54 559.5,573.31 567.5,575.36 575.5,578.43 583.5,575.36 591.5,579.05 599.5,581.5 607.5,582.53 615.5,586.21 623.5,574.54 631.5,571.47 639.5,569.42 647.5,562.67 655.5,558.57 663.5,562.26 671.5,565.33 679.5,574.54 687.5,568.4 695.5,568.19 703.5,566.35 711.5,566.15 719.5,559.59 727.5,549.97 735.5,554.48 743.5,550.99 751.5,549.36 759.5,555.5 767.5,554.07 775.5,550.38 783.5,547.31 791.5,551.4 799.5,557.55 807.5,556.11 815.5,555.09 823.5,558.16 831.5,565.74 839.5,579.45 847.5,578.43 855.5,583.55 863.5,576.38 871.5,578.43 879.5,575.36 887.5,579.45 895.5,578.43 903.5,577.41 911.5,579.45 919.5,584.16 927.5,583.14 935.5,584.16 943.5,585.19 951.5,585.19 959.5,585.19 967.5,587.64 975.5,578.02 983.5,577.41 991.5,582.53 999.5,582.53 1007.5,580.48 1015.5,575.36 1023.5,579.05 1031.5,583.55 1039.5,580.48 1047.5,580.48 1055.5,583.55 1063.5,585.19 1071.5,588.26 1079.5,589.69 1087.5,579.45 1095.5,581.5 1103.5,580.48 1111.5,583.55 1119.5,578.43 1127.5,586.21 1135.5,588.67 1143.5,587.24 1151.5,582.53 1159.5,583.55 1167.5,579.45 1175.5,580.48 1183.5,579.45 1191.5,579.45 1199.5,586.62 1207.5,588.67" fill="none" stroke="#1e90ff" stroke-width="1" stroke-linejoin="round" shape-rendering="crispEdges"/>
</g>
<text x="11.3" y="548.8" font-size="9.6" fill="#000" stroke="#000" stroke-width="0.22" textLength="67.5" lengthAdjust="spacingAndGlyphs">RSI(14) 43.9125</text>
<text x="1526.5" y="546.8" font-size="9.6" fill="#000" stroke="#000" stroke-width="0.22" textLength="14.4" lengthAdjust="spacingAndGlyphs">100</text>
<text x="1525.2" y="568" font-size="9.6" fill="#000" stroke="#000" stroke-width="0.22" textLength="10" lengthAdjust="spacingAndGlyphs">70</text>
<text x="1525.2" y="604.1" font-size="9.6" fill="#000" stroke="#000" stroke-width="0.22" textLength="10" lengthAdjust="spacingAndGlyphs">30</text>
<text x="1526.1" y="624.7" font-size="9.6" fill="#000" stroke="#000" stroke-width="0.22" textLength="4.9" lengthAdjust="spacingAndGlyphs">0</text>
<rect x="1523" y="538" width="1.2" height="1" fill="#000"/>
<rect x="1523" y="627" width="1.2" height="1" fill="#000"/>
<g clip-path="url(#cd)">
<rect x="7" y="698" width="1" height="7" fill="#c0c0c0"/>
<rect x="15" y="698" width="1" height="7" fill="#c0c0c0"/>
<rect x="23" y="698" width="1" height="7" fill="#c0c0c0"/>
<rect x="31" y="698" width="1" height="7" fill="#c0c0c0"/>
<rect x="39" y="698" width="1" height="7" fill="#c0c0c0"/>
<rect x="47" y="698" width="1" height="7" fill="#c0c0c0"/>
<rect x="55" y="698" width="1" height="7" fill="#c0c0c0"/>
<rect x="63" y="699" width="1" height="6" fill="#c0c0c0"/>
<rect x="71" y="701" width="1" height="4" fill="#c0c0c0"/>
<rect x="79" y="701" width="1" height="4" fill="#c0c0c0"/>
<rect x="87" y="702" width="1" height="3" fill="#c0c0c0"/>
<rect x="95" y="703" width="1" height="2" fill="#c0c0c0"/>
<rect x="103" y="703" width="1" height="2" fill="#c0c0c0"/>
<rect x="135" y="704" width="1" height="2" fill="#c0c0c0"/>
<rect x="143" y="704" width="1" height="3" fill="#c0c0c0"/>
<rect x="151" y="704" width="1" height="3" fill="#c0c0c0"/>
<rect x="159" y="704" width="1" height="4" fill="#c0c0c0"/>
<rect x="167" y="704" width="1" height="5" fill="#c0c0c0"/>
<rect x="175" y="704" width="1" height="5" fill="#c0c0c0"/>
<rect x="183" y="704" width="1" height="4" fill="#c0c0c0"/>
<rect x="191" y="704" width="1" height="5" fill="#c0c0c0"/>
<rect x="199" y="704" width="1" height="5" fill="#c0c0c0"/>
<rect x="207" y="704" width="1" height="5" fill="#c0c0c0"/>
<rect x="215" y="704" width="1" height="5" fill="#c0c0c0"/>
<rect x="223" y="704" width="1" height="6" fill="#c0c0c0"/>
<rect x="231" y="704" width="1" height="6" fill="#c0c0c0"/>
<rect x="239" y="704" width="1" height="8" fill="#c0c0c0"/>
<rect x="247" y="704" width="1" height="10" fill="#c0c0c0"/>
<rect x="255" y="704" width="1" height="11" fill="#c0c0c0"/>
<rect x="263" y="704" width="1" height="12" fill="#c0c0c0"/>
<rect x="271" y="704" width="1" height="13" fill="#c0c0c0"/>
<rect x="279" y="704" width="1" height="13" fill="#c0c0c0"/>
<rect x="287" y="704" width="1" height="13" fill="#c0c0c0"/>
<rect x="295" y="704" width="1" height="13" fill="#c0c0c0"/>
<rect x="303" y="704" width="1" height="12" fill="#c0c0c0"/>
<rect x="311" y="704" width="1" height="10" fill="#c0c0c0"/>
<rect x="319" y="704" width="1" height="9" fill="#c0c0c0"/>
<rect x="327" y="704" width="1" height="8" fill="#c0c0c0"/>
<rect x="335" y="704" width="1" height="7" fill="#c0c0c0"/>
<rect x="343" y="704" width="1" height="6" fill="#c0c0c0"/>
<rect x="351" y="704" width="1" height="6" fill="#c0c0c0"/>
<rect x="359" y="704" width="1" height="5" fill="#c0c0c0"/>
<rect x="367" y="704" width="1" height="5" fill="#c0c0c0"/>
<rect x="375" y="704" width="1" height="4" fill="#c0c0c0"/>
<rect x="383" y="704" width="1" height="4" fill="#c0c0c0"/>
<rect x="391" y="704" width="1" height="3" fill="#c0c0c0"/>
<rect x="399" y="704" width="1" height="2" fill="#c0c0c0"/>
<rect x="423" y="703" width="1" height="2" fill="#c0c0c0"/>
<rect x="431" y="702" width="1" height="3" fill="#c0c0c0"/>
<rect x="439" y="701" width="1" height="4" fill="#c0c0c0"/>
<rect x="447" y="699" width="1" height="6" fill="#c0c0c0"/>
<rect x="455" y="698" width="1" height="7" fill="#c0c0c0"/>
<rect x="463" y="697" width="1" height="8" fill="#c0c0c0"/>
<rect x="471" y="696" width="1" height="9" fill="#c0c0c0"/>
<rect x="479" y="695" width="1" height="10" fill="#c0c0c0"/>
<rect x="487" y="694" width="1" height="11" fill="#c0c0c0"/>
<rect x="495" y="693" width="1" height="12" fill="#c0c0c0"/>
<rect x="503" y="693" width="1" height="12" fill="#c0c0c0"/>
<rect x="511" y="692" width="1" height="13" fill="#c0c0c0"/>
<rect x="519" y="692" width="1" height="13" fill="#c0c0c0"/>
<rect x="527" y="692" width="1" height="13" fill="#c0c0c0"/>
<rect x="535" y="693" width="1" height="12" fill="#c0c0c0"/>
<rect x="543" y="694" width="1" height="11" fill="#c0c0c0"/>
<rect x="551" y="695" width="1" height="10" fill="#c0c0c0"/>
<rect x="559" y="696" width="1" height="9" fill="#c0c0c0"/>
<rect x="567" y="696" width="1" height="9" fill="#c0c0c0"/>
<rect x="575" y="697" width="1" height="8" fill="#c0c0c0"/>
<rect x="583" y="697" width="1" height="8" fill="#c0c0c0"/>
<rect x="591" y="698" width="1" height="7" fill="#c0c0c0"/>
<rect x="599" y="699" width="1" height="6" fill="#c0c0c0"/>
<rect x="607" y="700" width="1" height="5" fill="#c0c0c0"/>
<rect x="615" y="701" width="1" height="4" fill="#c0c0c0"/>
<rect x="623" y="701" width="1" height="4" fill="#c0c0c0"/>
<rect x="631" y="700" width="1" height="5" fill="#c0c0c0"/>
<rect x="639" y="700" width="1" height="5" fill="#c0c0c0"/>
<rect x="647" y="698" width="1" height="7" fill="#c0c0c0"/>
<rect x="655" y="696" width="1" height="9" fill="#c0c0c0"/>
<rect x="663" y="695" width="1" height="10" fill="#c0c0c0"/>
<rect x="671" y="694" width="1" height="11" fill="#c0c0c0"/>
<rect x="679" y="695" width="1" height="10" fill="#c0c0c0"/>
<rect x="687" y="694" width="1" height="11" fill="#c0c0c0"/>
<rect x="695" y="694" width="1" height="11" fill="#c0c0c0"/>
<rect x="703" y="693" width="1" height="12" fill="#c0c0c0"/>
<rect x="711" y="693" width="1" height="12" fill="#c0c0c0"/>
<rect x="719" y="691" width="1" height="14" fill="#c0c0c0"/>
<rect x="727" y="685" width="1" height="20" fill="#c0c0c0"/>
<rect x="735" y="681" width="1" height="24" fill="#c0c0c0"/>
<rect x="743" y="677" width="1" height="28" fill="#c0c0c0"/>
<rect x="751" y="671" width="1" height="34" fill="#c0c0c0"/>
<rect x="759" y="668" width="1" height="37" fill="#c0c0c0"/>
<rect x="767" y="665" width="1" height="40" fill="#c0c0c0"/>
<rect x="775" y="660" width="1" height="45" fill="#c0c0c0"/>
<rect x="783" y="650" width="1" height="55" fill="#c0c0c0"/>
<rect x="791" y="644" width="1" height="61" fill="#c0c0c0"/>
<rect x="799" y="642" width="1" height="63" fill="#c0c0c0"/>
<rect x="807" y="640" width="1" height="65" fill="#c0c0c0"/>
<rect x="815" y="637" width="1" height="68" fill="#c0c0c0"/>
<rect x="823" y="637" width="1" height="68" fill="#c0c0c0"/>
<rect x="831" y="640" width="1" height="65" fill="#c0c0c0"/>
<rect x="839" y="648" width="1" height="57" fill="#c0c0c0"/>
<rect x="847" y="654" width="1" height="51" fill="#c0c0c0"/>
<rect x="855" y="662" width="1" height="43" fill="#c0c0c0"/>
<rect x="863" y="665" width="1" height="40" fill="#c0c0c0"/>
<rect x="871" y="669" width="1" height="36" fill="#c0c0c0"/>
<rect x="879" y="670" width="1" height="35" fill="#c0c0c0"/>
<rect x="887" y="673" width="1" height="32" fill="#c0c0c0"/>
<rect x="895" y="676" width="1" height="29" fill="#c0c0c0"/>
<rect x="903" y="678" width="1" height="27" fill="#c0c0c0"/>
<rect x="911" y="680" width="1" height="25" fill="#c0c0c0"/>
<rect x="919" y="685" width="1" height="20" fill="#c0c0c0"/>
<rect x="927" y="689" width="1" height="16" fill="#c0c0c0"/>
<rect x="935" y="692" width="1" height="13" fill="#c0c0c0"/>
<rect x="943" y="695" width="1" height="10" fill="#c0c0c0"/>
<rect x="951" y="698" width="1" height="7" fill="#c0c0c0"/>
<rect x="959" y="700" width="1" height="5" fill="#c0c0c0"/>
<rect x="967" y="702" width="1" height="3" fill="#c0c0c0"/>
<rect x="975" y="701" width="1" height="4" fill="#c0c0c0"/>
<rect x="983" y="699" width="1" height="6" fill="#c0c0c0"/>
<rect x="991" y="700" width="1" height="5" fill="#c0c0c0"/>
<rect x="999" y="701" width="1" height="4" fill="#c0c0c0"/>
<rect x="1007" y="701" width="1" height="4" fill="#c0c0c0"/>
<rect x="1015" y="699" width="1" height="6" fill="#c0c0c0"/>
<rect x="1023" y="698" width="1" height="7" fill="#c0c0c0"/>
<rect x="1031" y="699" width="1" height="6" fill="#c0c0c0"/>
<rect x="1039" y="699" width="1" height="6" fill="#c0c0c0"/>
<rect x="1047" y="700" width="1" height="5" fill="#c0c0c0"/>
<rect x="1055" y="700" width="1" height="5" fill="#c0c0c0"/>
<rect x="1063" y="702" width="1" height="3" fill="#c0c0c0"/>
<rect x="1103" y="703" width="1" height="2" fill="#c0c0c0"/>
<rect x="1119" y="703" width="1" height="2" fill="#c0c0c0"/>
<rect x="1143" y="704" width="1" height="2" fill="#c0c0c0"/>
<rect x="1151" y="704" width="1" height="2" fill="#c0c0c0"/>
<rect x="1183" y="703" width="1" height="2" fill="#c0c0c0"/>
<rect x="1191" y="703" width="1" height="2" fill="#c0c0c0"/>
<polyline points="7.37,698.23 23.34,697.62 39.31,697.62 63.27,697.62 71.25,698.64 87.22,699.25 111.18,700.28 119.16,701.3 135.14,703.35 151.11,704.37 159.09,705.4 167.08,706.83 183.05,707.85 199.02,708.47 207,708.47 214.99,709.49 230.96,709.49 238.94,710.51 254.91,711.54 262.9,712.56 270.88,714 286.86,715.02 302.83,716.45 313.27,716.45 327.36,715.63 338.62,715.02 351.31,712.56 363.19,711.54 383.25,710.51 391.24,709.49 407.21,708.47 415.19,706.83 431.16,705.4 439.15,704.37 455.12,702.73 463.11,701.3 479.08,699.25 495.05,696.59 511.02,695.16 526.99,693.52 534.97,692.5 567.94,692.5 574.9,693.52 590.87,694.13 598.86,695.57 614.83,697.21 625.27,697.62 639.36,698.64 655.33,698.64 671.3,697.62 687.27,695.98 703.24,695.16 711.22,694.13 719.21,693.52 727.19,692.09 735.18,690.04 743.16,687.99 751.15,686.97 759.14,683.28 767.12,680.83 775.11,676.12 783.09,672.02 791.08,666.9 799.06,660.76 807.05,656.67 815.03,652.57 823.02,648.48 831,645.4 838.99,643.36 846.97,642.33 854.96,644.38 862.94,646.43 870.93,648.48 878.91,652.16 886.9,656.67 894.88,660.76 902.87,664.45 910.86,668.95 918.84,671 926.83,674.68 934.81,678.16 936,679.19 943.37,681.24 951.36,684.31 959.34,687.38 967.33,690.04 975.31,693.52 983.3,694.54 991.28,695.98 999.27,698.23 1007.25,699.25 1031.21,699.25 1039.19,698.23 1063.15,698.23 1071.14,699.25 1087.11,700.07 1095.09,701.3 1111.06,701.71 1119.05,702.32 1127.03,703.76 1135.02,703.76 1143,704.78 1206.88,704.37" fill="none" stroke="#ff0000" stroke-width="1" stroke-linejoin="round" stroke-dasharray="3,3" shape-rendering="crispEdges"/>
</g>
<text x="11.3" y="642.8" font-size="9.6" fill="#000" stroke="#000" stroke-width="0.22" textLength="153.5" lengthAdjust="spacingAndGlyphs">MACD(12,26,9) -0.000638 -0.000349</text>
<text x="1526.1" y="640.9" font-size="9.6" fill="#000" stroke="#000" stroke-width="0.22" textLength="36.9" lengthAdjust="spacingAndGlyphs">0.032493</text>
<text x="1526.1" y="707.9" font-size="9.6" fill="#000" stroke="#000" stroke-width="0.22" textLength="18" lengthAdjust="spacingAndGlyphs">0.00</text>
<text x="1526.1" y="718.8" font-size="9.6" fill="#000" stroke="#000" stroke-width="0.22" textLength="40.2" lengthAdjust="spacingAndGlyphs">-0.008086</text>
<rect x="1523" y="632" width="1.2" height="1" fill="#000"/>
<rect x="1523" y="704" width="1.2" height="1" fill="#000"/>
<rect x="1523" y="721" width="1.2" height="1" fill="#000"/>
<rect x="7" y="723" width="1" height="3" fill="#000"/>
<text x="6.3" y="734.8" font-size="9.6" fill="#000" stroke="#000" stroke-width="0.22" textLength="53.3" lengthAdjust="spacingAndGlyphs">26 Nov 2019</text>
<rect x="71" y="723" width="1" height="3" fill="#000"/>
<text x="70.2" y="734.8" font-size="9.6" fill="#000" stroke="#000" stroke-width="0.22" textLength="46.8" lengthAdjust="spacingAndGlyphs">5 Dec 2019</text>
<rect x="135" y="723" width="1" height="3" fill="#000"/>
<text x="134.4" y="734.8" font-size="9.6" fill="#000" stroke="#000" stroke-width="0.22" textLength="51.5" lengthAdjust="spacingAndGlyphs">14 Dec 2019</text>
<rect x="199" y="723" width="1" height="3" fill="#000"/>
<text x="198" y="734.8" font-size="9.6" fill="#000" stroke="#000" stroke-width="0.22" textLength="51.6" lengthAdjust="spacingAndGlyphs">24 Dec 2019</text>
<rect x="263" y="723" width="1" height="3" fill="#000"/>
<text x="262.4" y="734.8" font-size="9.6" fill="#000" stroke="#000" stroke-width="0.22" textLength="44.1" lengthAdjust="spacingAndGlyphs">2 Jan 2020</text>
<rect x="327" y="723" width="1" height="3" fill="#000"/>
<text x="326.8" y="734.8" font-size="9.6" fill="#000" stroke="#000" stroke-width="0.22" textLength="48.7" lengthAdjust="spacingAndGlyphs">11 Jan 2020</text>
<rect x="391" y="723" width="1" height="3" fill="#000"/>
<text x="390.5" y="734.8" font-size="9.6" fill="#000" stroke="#000" stroke-width="0.22" textLength="49.1" lengthAdjust="spacingAndGlyphs">21 Jan 2020</text>
<rect x="455" y="723" width="1" height="3" fill="#000"/>
<text x="454.1" y="734.8" font-size="9.6" fill="#000" stroke="#000" stroke-width="0.22" textLength="49.4" lengthAdjust="spacingAndGlyphs">30 Jan 2020</text>
<rect x="519" y="723" width="1" height="3" fill="#000"/>
<text x="518.1" y="734.8" font-size="9.6" fill="#000" stroke="#000" stroke-width="0.22" textLength="46.8" lengthAdjust="spacingAndGlyphs">8 Feb 2020</text>
<rect x="583" y="723" width="1" height="3" fill="#000"/>
<text x="582.3" y="734.8" font-size="9.6" fill="#000" stroke="#000" stroke-width="0.22" textLength="51.7" lengthAdjust="spacingAndGlyphs">18 Feb 2020</text>
<rect x="647" y="723" width="1" height="3" fill="#000"/>
<text x="646.3" y="734.8" font-size="9.6" fill="#000" stroke="#000" stroke-width="0.22" textLength="50.9" lengthAdjust="spacingAndGlyphs">27 Feb 2020</text>
<rect x="711" y="723" width="1" height="3" fill="#000"/>
<text x="710" y="734.8" font-size="9.6" fill="#000" stroke="#000" stroke-width="0.22" textLength="46.8" lengthAdjust="spacingAndGlyphs">7 Mar 2020</text>
<rect x="775" y="723" width="1" height="3" fill="#000"/>
<text x="774.7" y="734.8" font-size="9.6" fill="#000" stroke="#000" stroke-width="0.22" textLength="51.2" lengthAdjust="spacingAndGlyphs">17 Mar 2020</text>
<rect x="839" y="723" width="1" height="3" fill="#000"/>
<text x="837.7" y="734.8" font-size="9.6" fill="#000" stroke="#000" stroke-width="0.22" textLength="52.4" lengthAdjust="spacingAndGlyphs">26 Mar 2020</text>
<rect x="903" y="723" width="1" height="3" fill="#000"/>
<text x="902.2" y="734.8" font-size="9.6" fill="#000" stroke="#000" stroke-width="0.22" textLength="45.5" lengthAdjust="spacingAndGlyphs">4 Apr 2020</text>
<rect x="967" y="723" width="1" height="3" fill="#000"/>
<text x="966.1" y="734.8" font-size="9.6" fill="#000" stroke="#000" stroke-width="0.22" textLength="50.7" lengthAdjust="spacingAndGlyphs">14 Apr 2020</text>
<rect x="1031" y="723" width="1" height="3" fill="#000"/>
<text x="1030.1" y="734.8" font-size="9.6" fill="#000" stroke="#000" stroke-width="0.22" textLength="50.7" lengthAdjust="spacingAndGlyphs">23 Apr 2020</text>
<rect x="1095" y="723" width="1" height="3" fill="#000"/>
<text x="1094.1" y="734.8" font-size="9.6" fill="#000" stroke="#000" stroke-width="0.22" textLength="49.9" lengthAdjust="spacingAndGlyphs">2 May 2020</text>
<rect x="1159" y="723" width="1" height="3" fill="#000"/>
<text x="1158.9" y="734.8" font-size="9.6" fill="#000" stroke="#000" stroke-width="0.22" textLength="54.2" lengthAdjust="spacingAndGlyphs">12 May 2020</text>
<rect x="4" y="743" width="1563" height="1" fill="#e3e3e3"/>
<rect x="1" y="744" width="1563" height="1" fill="#ffffff"/>
<rect x="0" y="745" width="1563" height="21" fill="#f0f0f0"/>
<rect x="1" y="745" width="1" height="19" fill="#fff"/>
<rect x="2" y="745" width="1563" height="1" fill="#000"/>
<rect x="2.3" y="745" width="1.2" height="19.5" fill="#303030"/>
<rect x="0" y="764" width="3" height="1" fill="#606060"/>
<rect x="4" y="746" width="1563" height="1" fill="#fff"/>
<rect x="3.7" y="746" width="1" height="18" fill="#fff"/>
<rect x="0" y="765" width="1563" height="1" fill="#f6f6f6"/>
<rect x="316" y="743" width="104" height="21" fill="#fff"/>
<rect x="316" y="745" width="1" height="19" fill="#000"/>
<rect x="419" y="745" width="1" height="19" fill="#000"/>
<rect x="316" y="763" width="104" height="1" fill="#000"/>
<rect x="317" y="764" width="104" height="1" fill="#fff"/>
<text x="20.6" y="759.8" font-size="12.3" fill="#6d6d6d" textLength="79.2" lengthAdjust="spacingAndGlyphs">EURUSD,Daily</text>
<text x="122.4" y="759.8" font-size="12.3" fill="#6d6d6d" textLength="78.5" lengthAdjust="spacingAndGlyphs">USDCHF,Daily</text>
<text x="223.5" y="759.8" font-size="12.3" fill="#6d6d6d" textLength="81.2" lengthAdjust="spacingAndGlyphs">AUDUSD,Daily</text>
<text x="430.8" y="759.8" font-size="12.3" fill="#6d6d6d" textLength="81.5" lengthAdjust="spacingAndGlyphs">USDCNH,Daily</text>
<text x="535.9" y="759.8" font-size="12.3" fill="#6d6d6d" textLength="79.9" lengthAdjust="spacingAndGlyphs">EURUSD,Daily</text>
<text x="639.7" y="759.8" font-size="12.3" fill="#6d6d6d" textLength="79.9" lengthAdjust="spacingAndGlyphs">GBPUSD,Daily</text>
<text x="743.8" y="759.8" font-size="12.3" fill="#6d6d6d" textLength="99.8" lengthAdjust="spacingAndGlyphs">XAUUSD,Monthly</text>
<text x="866.9" y="759.8" font-size="12.3" fill="#6d6d6d" textLength="48.9" lengthAdjust="spacingAndGlyphs">HK50,H1</text>
<text x="939.1" y="759.8" font-size="12.3" fill="#6d6d6d" textLength="56.6" lengthAdjust="spacingAndGlyphs">UK100,H1</text>
<text x="1018.7" y="759.8" font-size="12.3" fill="#6d6d6d" textLength="56.9" lengthAdjust="spacingAndGlyphs">UK100,H1</text>
<text x="1099.1" y="759.8" font-size="12.3" fill="#6d6d6d" textLength="56.51" lengthAdjust="spacingAndGlyphs">GER30,H1</text>
<text x="1178.3" y="759.8" font-size="12.3" fill="#6d6d6d" textLength="54.41" lengthAdjust="spacingAndGlyphs">FRA40,H1</text>
<text x="1254.3" y="759.8" font-size="12.3" fill="#6d6d6d" textLength="62.7" lengthAdjust="spacingAndGlyphs">USOil,Daily</text>
<text x="1338.6" y="759.8" font-size="12.3" fill="#6d6d6d" textLength="62" lengthAdjust="spacingAndGlyphs">USDJPY,H1</text>
<text x="1422.2" y="759.8" font-size="12.3" fill="#6d6d6d" textLength="46.8" lengthAdjust="spacingAndGlyphs">DJ30,H4</text>
<text x="327.6" y="759.8" font-size="12.3" fill="#000" textLength="80.3" lengthAdjust="spacingAndGlyphs">USDCAD,Daily</text>
<rect x="111.85" y="748" width="1.1" height="14" fill="#5a5a5a"/>
<rect x="211.65" y="748" width="1.1" height="14" fill="#5a5a5a"/>
<rect x="523.45" y="748" width="1.1" height="14" fill="#5a5a5a"/>
<rect x="627.55" y="748" width="1.1" height="14" fill="#5a5a5a"/>
<rect x="731.65" y="748" width="1.1" height="14" fill="#5a5a5a"/>
<rect x="855.45" y="748" width="1.1" height="14" fill="#5a5a5a"/>
<rect x="927.95" y="748" width="1.1" height="14" fill="#5a5a5a"/>
<rect x="1007.85" y="748" width="1.1" height="14" fill="#5a5a5a"/>
<rect x="1087.75" y="748" width="1.1" height="14" fill="#5a5a5a"/>
<rect x="1167.65" y="748" width="1.1" height="14" fill="#5a5a5a"/>
<rect x="1244.45" y="748" width="1.1" height="14" fill="#5a5a5a"/>
<rect x="1327.95" y="748" width="1.1" height="14" fill="#5a5a5a"/>
<rect x="1411.95" y="748" width="1.1" height="14" fill="#5a5a5a"/>
<rect x="1479.95" y="748" width="1.1" height="14" fill="#5a5a5a"/>
<polygon points="1537.7,754 1541,750.8 1541,757.2" fill="#909090"/>
<polygon points="1560.3,754 1557,750.8 1557,757.2" fill="#909090"/>
</svg></body></html>
